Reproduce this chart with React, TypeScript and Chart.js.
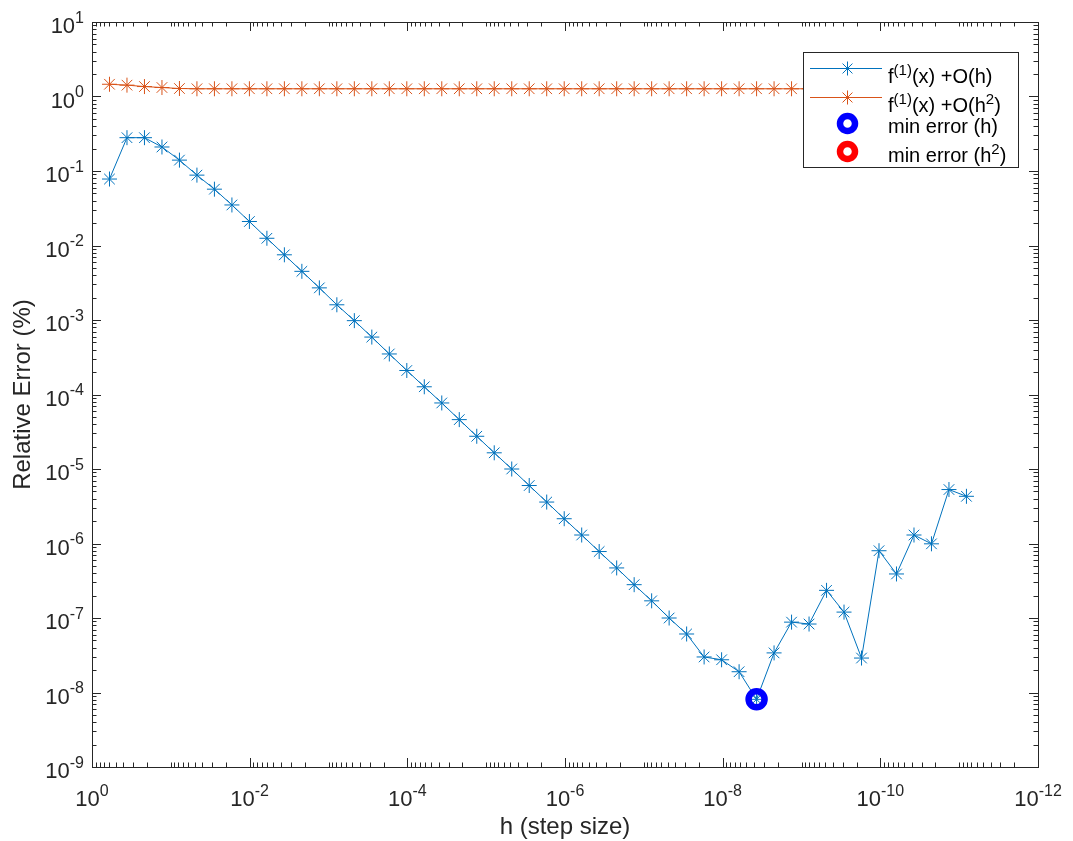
import React, { useEffect, useRef } from "react";
import { Chart, registerables } from "chart.js";

Chart.register(...registerables);

// step sizes h = 0.6^k, k = 1..50
const stepSizes = [
  0.6, 0.36, 0.216, 0.1296, 0.07776, 0.046656, 0.0279936, 0.01679616, 0.010077696, 0.0060466,
  0.00362797, 0.00217678, 0.00130607, 7.8364e-4, 4.7018e-4, 2.8211e-4, 1.6927e-4, 1.0156e-4, 6.0936e-5, 3.6562e-5,
  2.1937e-5, 1.3162e-5, 7.8973e-6, 4.7384e-6, 2.843e-6, 1.7058e-6, 1.0235e-6, 6.141e-7, 3.6846e-7, 2.2107e-7,
  1.3264e-7, 7.9586e-8, 4.7752e-8, 2.8651e-8, 1.7191e-8, 1.0314e-8, 6.1887e-9, 3.7132e-9, 2.2279e-9, 1.3368e-9,
  8.0205e-10, 4.8123e-10, 2.8874e-10, 1.7324e-10, 1.0395e-10, 6.2369e-11, 3.7421e-11, 2.2453e-11, 1.3472e-11, 8.0831e-12,
];

// relative error (%) of the O(h) approximation
const errorOh = [
  0.078, 0.28, 0.28, 0.21, 0.14, 0.088, 0.057, 0.035, 0.021, 0.0125,
  0.0075, 0.0045, 0.0027, 0.0016, 0.00098, 0.00059, 0.00035, 0.00021, 0.000127, 7.7e-5,
  4.6e-5, 2.75e-5, 1.65e-5, 1.0e-5, 6.0e-6, 3.6e-6, 2.15e-6, 1.3e-6, 7.8e-7, 4.7e-7,
  2.8e-7, 1.7e-7, 1.0e-7, 6.1e-8, 3.0e-8, 2.75e-8, 1.9e-8, 8.1e-9, 3.4e-8, 8.8e-8,
  8.3e-8, 2.35e-7, 1.2e-7, 2.9e-8, 8.0e-7, 3.9e-7, 1.3e-6, 9.9e-7, 5.3e-6, 4.3e-6,
];

// relative error (%) of the O(h^2) approximation
const errorOh2 = [
  1.46, 1.42, 1.36, 1.32, 1.28, 1.27, 1.27, 1.27, 1.27, 1.27,
  1.27, 1.27, 1.27, 1.27, 1.27, 1.27, 1.27, 1.27, 1.27, 1.27,
  1.27, 1.27, 1.27, 1.27, 1.27, 1.27, 1.27, 1.27, 1.27, 1.27,
  1.27, 1.27, 1.27, 1.27, 1.27, 1.27, 1.27, 1.27, 1.27, 1.27,
  1.27, 1.27, 1.27, 1.27, 1.27, 1.27, 1.27, 1.27, 1.27, 1.27,
];

const minErrorH = [{ x: 3.7132e-9, y: 8.1e-9 }];
const minErrorH2 = [{ x: 8.0831e-12, y: 1.27 }];

const xTickExponents = [0, -2, -4, -6, -8, -10, -12];
const yTickExponents = [1, 0, -1, -2, -3, -4, -5, -6, -7, -8, -9];
const xAxisTitle = "h (step size)";
const yAxisTitle = "Relative Error (%)";

// legend label parts: [text, isSuperscript]
const legendLabels: [string, boolean][][] = [
  [["f", false], ["(1)", true], ["(x) +O(h)", false]],
  [["f", false], ["(1)", true], ["(x) +O(h", false], ["2", true], [")", false]],
  [["min error (h)", false]],
  [["min error (h", false], ["2", true], [")", false]],
];

const BLUE = "#0072BD";
const ORANGE = "#D95319";
const MIN_BLUE = "#0000FF";
const MIN_RED = "#FF0000";
const AXIS_COLOR = "#262626";
const FONT = "'Liberation Sans', Arial, Helvetica, sans-serif";

function drawPow(ctx: CanvasRenderingContext2D, exp: number, x: number, baseline: number, align: "center" | "right") {
  const base = `22px ${FONT}`;
  const sup = `16px ${FONT}`;
  ctx.font = base;
  const wb = ctx.measureText("10").width;
  ctx.font = sup;
  const st = String(exp);
  const ws = ctx.measureText(st).width;
  const total = wb + ws;
  const x0 = align === "center" ? x - total / 2 : x - total;
  ctx.textAlign = "left";
  ctx.textBaseline = "alphabetic";
  ctx.font = base;
  ctx.fillText("10", x0, baseline);
  ctx.font = sup;
  ctx.fillText(st, x0 + wb, baseline - 10.5);
}

function drawRich(ctx: CanvasRenderingContext2D, parts: [string, boolean][], x: number, baseline: number) {
  let cx = x;
  ctx.textAlign = "left";
  ctx.textBaseline = "alphabetic";
  for (const [t, sup] of parts) {
    ctx.font = sup ? `15px ${FONT}` : `20px ${FONT}`;
    ctx.fillText(t, cx, sup ? baseline - 8 : baseline);
    cx += ctx.measureText(t).width;
  }
}

function drawStar(ctx: CanvasRenderingContext2D, x: number, y: number, r: number, color: string) {
  ctx.save();
  ctx.strokeStyle = color;
  ctx.lineWidth = 1;
  ctx.beginPath();
  ctx.moveTo(x - r, y); ctx.lineTo(x + r, y);
  ctx.moveTo(x, y - r); ctx.lineTo(x, y + r);
  const d = r * Math.SQRT1_2;
  ctx.moveTo(x - d, y - d); ctx.lineTo(x + d, y + d);
  ctx.moveTo(x - d, y + d); ctx.lineTo(x + d, y - d);
  ctx.stroke();
  ctx.restore();
}

const matlabPlugin = {
  id: "matlabAxes",
  afterDatasetsDraw(chart: any) {
    const { ctx, chartArea } = chart;
    const { left, right, top, bottom } = chartArea;
    const xs = chart.scales.x;
    const ys = chart.scales.y;
    ctx.save();
    ctx.strokeStyle = AXIS_COLOR;
    ctx.fillStyle = AXIS_COLOR;
    ctx.lineWidth = 1;

    // ticks
    ctx.beginPath();
    for (let e = -12; e <= 0; e++) {
      for (let m = 1; m <= 9; m++) {
        const v = m * Math.pow(10, e);
        if (v > 1.0000001) break;
        const px = Math.round(xs.getPixelForValue(v)) + 0.5;
        const major = m === 1 && e % 2 === 0;
        const len = major ? 9 : 4.5;
        ctx.moveTo(px, bottom); ctx.lineTo(px, bottom - len);
        ctx.moveTo(px, top); ctx.lineTo(px, top + len);
      }
    }
    for (let e = -9; e <= 1; e++) {
      for (let m = 1; m <= 9; m++) {
        const v = m * Math.pow(10, e);
        if (v > 10.000001) break;
        const py = Math.round(ys.getPixelForValue(v)) + 0.5;
        const major = m === 1;
        const len = major ? 9 : 4.5;
        ctx.moveTo(left, py); ctx.lineTo(left + len, py);
        ctx.moveTo(right, py); ctx.lineTo(right - len, py);
      }
    }
    ctx.stroke();

    // box
    ctx.strokeRect(Math.round(left) + 0.5, Math.round(top) + 0.5, Math.round(right - left), Math.round(bottom - top));

    // tick labels
    for (const e of xTickExponents) {
      const px = xs.getPixelForValue(Math.pow(10, e));
      drawPow(ctx, e, px, bottom + 39, "center");
    }
    for (const e of yTickExponents) {
      const py = ys.getPixelForValue(Math.pow(10, e));
      drawPow(ctx, e, left - 8, py + 11, "right");
    }

    // axis titles
    ctx.font = `24px ${FONT}`;
    ctx.textAlign = "center";
    ctx.textBaseline = "alphabetic";
    ctx.fillText(xAxisTitle, (left + right) / 2, 834);
    ctx.save();
    ctx.translate(30, (top + bottom) / 2);
    ctx.rotate(-Math.PI / 2);
    ctx.fillText(yAxisTitle, 0, 0);
    ctx.restore();

    // legend
    const lx = 803.5, ly = 52.5, lw = 215, lh = 115;
    ctx.fillStyle = "#ffffff";
    ctx.fillRect(lx, ly, lw, lh);
    ctx.strokeStyle = AXIS_COLOR;
    ctx.strokeRect(lx, ly, lw, lh);
    const rowsY = [68.5, 97.5, 123.5, 151.5];
    const baselines = [83, 112, 132.5, 161.5];
    const mx = 847.5;
    // row 1
    ctx.strokeStyle = BLUE;
    ctx.beginPath(); ctx.moveTo(810, rowsY[0]); ctx.lineTo(882, rowsY[0]); ctx.stroke();
    drawStar(ctx, mx, rowsY[0], 7, BLUE);
    // row 2
    ctx.strokeStyle = ORANGE;
    ctx.beginPath(); ctx.moveTo(810, rowsY[1]); ctx.lineTo(882, rowsY[1]); ctx.stroke();
    drawStar(ctx, mx, rowsY[1], 7, ORANGE);
    // row 3, 4
    ctx.lineWidth = 6.5;
    ctx.strokeStyle = MIN_BLUE;
    ctx.beginPath(); ctx.arc(mx, rowsY[2], 7.5, 0, Math.PI * 2); ctx.stroke();
    ctx.strokeStyle = MIN_RED;
    ctx.beginPath(); ctx.arc(mx, rowsY[3], 7.5, 0, Math.PI * 2); ctx.stroke();
    ctx.lineWidth = 1;
    ctx.fillStyle = "#000000";
    legendLabels.forEach((parts, i) => drawRich(ctx, parts, 888, baselines[i]));
    ctx.restore();
  },
};

export default function App() {
  const canvasRef = useRef<HTMLCanvasElement | null>(null);

  useEffect(() => {
    if (!canvasRef.current) return;
    const chart = new Chart(canvasRef.current, {
      type: "scatter",
      data: {
        datasets: [
          {
            label: "min error (h)",
            data: minErrorH,
            showLine: false,
            pointStyle: "circle",
            pointRadius: 8,
            pointBorderWidth: 6.5,
            borderColor: MIN_BLUE,
            backgroundColor: "rgba(0,0,0,0)",
            order: 1,
          },
          {
            label: "min error (h^2)",
            data: minErrorH2,
            showLine: false,
            pointStyle: "circle",
            pointRadius: 8,
            pointBorderWidth: 6.5,
            borderColor: MIN_RED,
            backgroundColor: "rgba(0,0,0,0)",
            order: 2,
          },
          {
            label: "f(1)(x) +O(h)",
            data: stepSizes.map((h, i) => ({ x: h, y: errorOh[i] })),
            showLine: true,
            borderColor: BLUE,
            backgroundColor: BLUE,
            borderWidth: 1,
            pointStyle: "star",
            pointRadius: 7.5,
            pointBorderWidth: 1,
            pointBorderColor: BLUE,
            order: 3,
          },
          {
            label: "f(1)(x) +O(h2)",
            data: stepSizes.map((h, i) => ({ x: h, y: errorOh2[i] })),
            showLine: true,
            borderColor: ORANGE,
            backgroundColor: ORANGE,
            borderWidth: 1,
            pointStyle: "star",
            pointRadius: 7.5,
            pointBorderWidth: 1,
            pointBorderColor: ORANGE,
            order: 4,
          },
        ],
      },
      options: {
        responsive: false,
        animation: false,
        events: [],
        layout: { padding: { left: 92, top: 22, right: 35, bottom: 74 } },
        plugins: {
          legend: { display: false },
          tooltip: { enabled: false },
        },
        scales: {
          x: {
            type: "logarithmic",
            reverse: true,
            min: 1e-12,
            max: 1,
            display: false,
          },
          y: {
            type: "logarithmic",
            min: 1e-9,
            max: 10,
            display: false,
          },
        },
      },
      plugins: [matlabPlugin],
    });
    return () => chart.destroy();
  }, []);

  return (
    <div style={{ position: "fixed", left: 0, top: 0, width: 1073, height: 841, background: "#ffffff" }}>
      <canvas ref={canvasRef} width={1073} height={841} style={{ width: 1073, height: 841 }} />
    </div>
  );
}
